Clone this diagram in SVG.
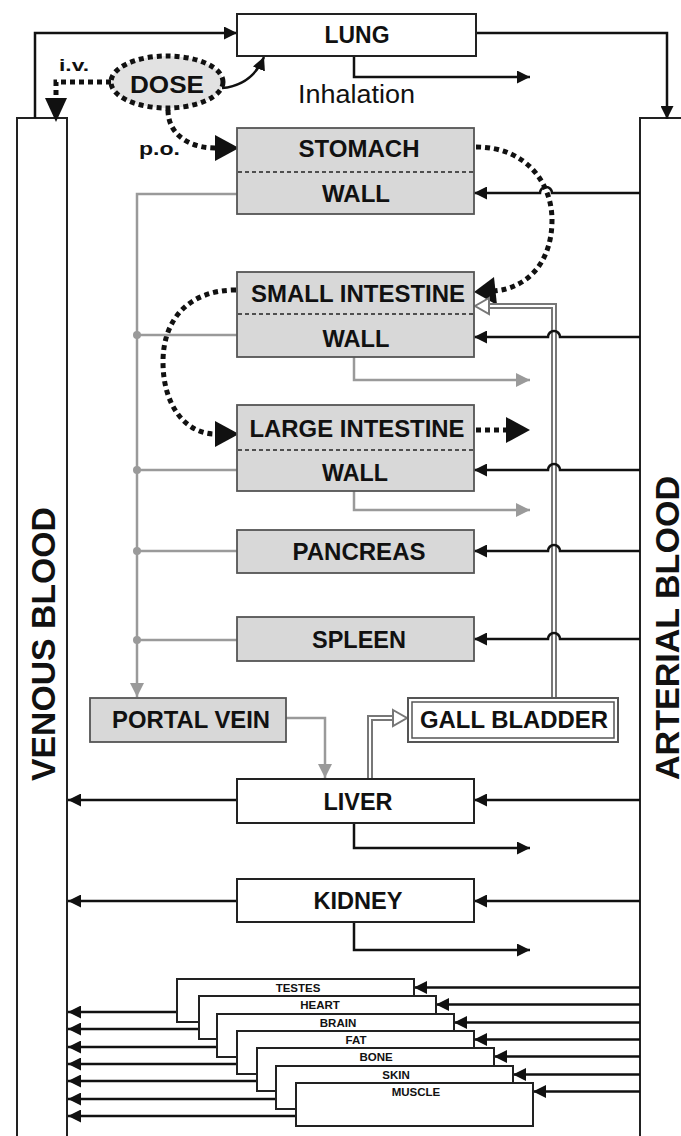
<svg xmlns="http://www.w3.org/2000/svg" width="681" height="1136" viewBox="0 0 681 1136">
<defs>
<style>
.box{fill:#fff;stroke:#222;stroke-width:2}
.gbox{fill:#d8d8d8;stroke:#555;stroke-width:1.8}
.lbl{font-family:"Liberation Sans",Arial,sans-serif;font-weight:bold;font-size:23px;fill:#111;text-anchor:middle}
.big{font-family:"Liberation Sans",Arial,sans-serif;font-weight:bold;font-size:34px;fill:#111;text-anchor:start}
.sm{font-family:"Liberation Sans",Arial,sans-serif;font-weight:bold;font-size:11.5px;fill:#111;text-anchor:middle}
.reg{font-family:"Liberation Sans",Arial,sans-serif;font-size:25px;fill:#111}
.bl{font-family:"Liberation Sans",Arial,sans-serif;font-weight:bold;fill:#111}
.div{stroke:#222;stroke-width:1.5;stroke-dasharray:4 3;fill:none}
.blk{fill:none;stroke:#111;stroke-width:2.5}
.gry{fill:none;stroke:#9a9a9a;stroke-width:2.5}
.dot{fill:none;stroke:#111;stroke-width:5;stroke-dasharray:5 4}
.dblo{fill:none;stroke:#777;stroke-width:6}
.dbli{fill:none;stroke:#fff;stroke-width:2}
.hol{fill:#fff;stroke:#777;stroke-width:2}
.ahd{fill:#111}
</style>
<marker id="ah" viewBox="0 0 12 12" refX="12" refY="6" markerWidth="13" markerHeight="13" markerUnits="userSpaceOnUse" orient="auto"><path d="M0,0 L12,6 L0,12 z" fill="#111"/></marker>
<marker id="ahg" viewBox="0 0 12 12" refX="12" refY="6" markerWidth="14" markerHeight="14" markerUnits="userSpaceOnUse" orient="auto"><path d="M0,0 L12,6 L0,12 z" fill="#9a9a9a"/></marker>
</defs>
<rect width="681" height="1136" fill="#fff"/>

<g id="venous-blood">
<rect x="17" y="118" width="50" height="1030" fill="#fff" stroke="#222" stroke-width="2"/>
<text class="big" transform="translate(55,781) rotate(-90)" textLength="274" lengthAdjust="spacingAndGlyphs">VENOUS BLOOD</text>
</g>
<g id="arterial-blood">
<rect x="640" y="118" width="60" height="1030" fill="#fff" stroke="#222" stroke-width="2"/>
<text class="big" transform="translate(679,780) rotate(-90)" textLength="304" lengthAdjust="spacingAndGlyphs">ARTERIAL BLOOD</text>
</g>

<g id="connectors">
<!-- lung -->
<path class="blk" d="M35 118 V33 H237" marker-end="url(#ah)"/>
<path class="blk" d="M476 33 H667 V119" marker-end="url(#ah)"/>
<path class="blk" d="M354 56 V77 H530" marker-end="url(#ah)"/>
<path class="blk" stroke-width="2" d="M222 88 C243 86 256 76 264 57" marker-end="url(#ah)"/>
<!-- dose routes -->
<path class="dot" d="M111 82 H56 V98"/>
<polygon class="ahd" points="45,98 67,98 56,122"/>
<path class="dot" d="M168 110 C168 135 190 148 215 148"/>
<polygon class="ahd" points="215,135 239,148 215,161"/>
<path class="dot" d="M476 147 C528 147 552 185 552 220 C552 262 528 288 494 291"/>
<polygon class="ahd" points="494,277 474,292 497,305"/>
<path class="dot" d="M236 290 C190 290 163 318 163 362 C163 405 185 433 214 434"/>
<polygon class="ahd" points="215,421 239,434 215,447"/>
<path class="dot" d="M476 430 H506"/>
<polygon class="ahd" points="506,417 530,430 506,443"/>
<!-- portal system (gray) -->
<path class="gry" d="M237 194 H137 V697" marker-end="url(#ahg)"/>
<path class="gry" d="M237 335 H137"/>
<path class="gry" d="M237 470 H137"/>
<path class="gry" d="M237 551 H137"/>
<path class="gry" d="M237 640 H137"/>
<circle cx="137" cy="335" r="4" fill="#9a9a9a"/>
<circle cx="137" cy="470" r="4" fill="#9a9a9a"/>
<circle cx="137" cy="551" r="4" fill="#9a9a9a"/>
<circle cx="137" cy="640" r="4" fill="#9a9a9a"/>
<path class="gry" d="M354 357 V380 H530" marker-end="url(#ahg)"/>
<path class="gry" d="M354 491 V510 H530" marker-end="url(#ahg)"/>
<path class="gry" d="M286 718 H325 V778" marker-end="url(#ahg)"/>
<!-- bile (double lines) -->
<path class="dblo" d="M554 698 V306 H489"/>
<path class="dbli" d="M554 698 V306 H489"/>
<polygon class="hol" points="489,298 475,306 489,314"/>
<path class="dblo" d="M370 779 V718 H393"/>
<path class="dbli" d="M370 779 V718 H393"/>
<polygon class="hol" points="393,710 407,718 393,726"/>
<!-- arterial inflows -->
<path class="blk" d="M640 193 H552 A6 6 0 0 0 540 193 H474" marker-end="url(#ah)"/>
<path class="blk" d="M640 337 H560 A6 6 0 0 0 548 337 H474" marker-end="url(#ah)"/>
<path class="blk" d="M640 470 H560 A6 6 0 0 0 548 470 H474" marker-end="url(#ah)"/>
<path class="blk" d="M640 551 H560 A6 6 0 0 0 548 551 H474" marker-end="url(#ah)"/>
<path class="blk" d="M640 639 H560 A6 6 0 0 0 548 639 H474" marker-end="url(#ah)"/>
<path class="blk" d="M640 800 H474" marker-end="url(#ah)"/>
<path class="blk" d="M640 901 H474" marker-end="url(#ah)"/>
<!-- venous outflows -->
<path class="blk" d="M237 800 H68" marker-end="url(#ah)"/>
<path class="blk" d="M237 901 H68" marker-end="url(#ah)"/>
<path class="blk" d="M354 823 V848 H530" marker-end="url(#ah)"/>
<path class="blk" d="M354 922 V950 H530" marker-end="url(#ah)"/>
<!-- stacked tissues -->
<path class="blk" d="M640 987.5 H414" marker-end="url(#ah)"/>
<path class="blk" d="M640 1004.5 H436" marker-end="url(#ah)"/>
<path class="blk" d="M640 1022.5 H454" marker-end="url(#ah)"/>
<path class="blk" d="M640 1039.5 H474" marker-end="url(#ah)"/>
<path class="blk" d="M640 1056.5 H494" marker-end="url(#ah)"/>
<path class="blk" d="M640 1074.5 H513" marker-end="url(#ah)"/>
<path class="blk" d="M640 1091.5 H533" marker-end="url(#ah)"/>
<path class="blk" d="M177 1012 H68" marker-end="url(#ah)"/>
<path class="blk" d="M199 1029 H68" marker-end="url(#ah)"/>
<path class="blk" d="M217 1047 H68" marker-end="url(#ah)"/>
<path class="blk" d="M237 1064 H68" marker-end="url(#ah)"/>
<path class="blk" d="M257 1081 H68" marker-end="url(#ah)"/>
<path class="blk" d="M276 1099 H68" marker-end="url(#ah)"/>
<path class="blk" d="M296 1116 H68" marker-end="url(#ah)"/>
</g>

<g id="lung"><rect class="box" x="237" y="14" width="239" height="42"/><text class="lbl" x="357" y="43" textLength="65" lengthAdjust="spacingAndGlyphs">LUNG</text></g>
<g id="dose"><ellipse cx="167" cy="82" rx="56" ry="26" fill="#e2e2e2" stroke="#111" stroke-width="5" stroke-dasharray="5 4"/><text class="lbl" x="167" y="93" font-size="25" textLength="74" lengthAdjust="spacingAndGlyphs">DOSE</text></g>
<g id="labels">
<text class="bl" x="59" y="71" font-size="17" textLength="30" lengthAdjust="spacingAndGlyphs">i.v.</text>
<text class="bl" x="139" y="155" font-size="19" textLength="41" lengthAdjust="spacingAndGlyphs">p.o.</text>
<text class="reg" x="298" y="103" textLength="117" lengthAdjust="spacingAndGlyphs">Inhalation</text>
</g>
<g id="stomach"><rect class="gbox" x="237" y="128" width="237" height="86"/><line class="div" x1="238" y1="172" x2="473" y2="172"/><text class="lbl" x="359" y="157" textLength="121" lengthAdjust="spacingAndGlyphs">STOMACH</text><text class="lbl" x="356" y="202" textLength="68" lengthAdjust="spacingAndGlyphs">WALL</text></g>
<g id="small-intestine"><rect class="gbox" x="237" y="272" width="237" height="85"/><line class="div" x1="238" y1="314" x2="473" y2="314"/><text class="lbl" x="358" y="302" textLength="214" lengthAdjust="spacingAndGlyphs">SMALL INTESTINE</text><text class="lbl" x="356" y="347" textLength="67" lengthAdjust="spacingAndGlyphs">WALL</text></g>
<g id="large-intestine"><rect class="gbox" x="237" y="405" width="237" height="86"/><line class="div" x1="238" y1="450" x2="473" y2="450"/><text class="lbl" x="357" y="437" textLength="215" lengthAdjust="spacingAndGlyphs">LARGE INTESTINE</text><text class="lbl" x="355" y="481" textLength="66" lengthAdjust="spacingAndGlyphs">WALL</text></g>
<g id="pancreas"><rect class="gbox" x="237" y="530" width="237" height="43"/><text class="lbl" x="359" y="560" textLength="133" lengthAdjust="spacingAndGlyphs">PANCREAS</text></g>
<g id="spleen"><rect class="gbox" x="237" y="617" width="237" height="44"/><text class="lbl" x="359" y="648" textLength="94" lengthAdjust="spacingAndGlyphs">SPLEEN</text></g>
<g id="portal-vein"><rect class="gbox" x="90" y="698" width="196" height="44"/><text class="lbl" x="191" y="728" textLength="158" lengthAdjust="spacingAndGlyphs">PORTAL VEIN</text></g>
<g id="gall-bladder"><rect x="408" y="698" width="210" height="44" fill="#fff" stroke="#555" stroke-width="2"/><rect x="412" y="702" width="202" height="36" fill="none" stroke="#555" stroke-width="1.5"/><text class="lbl" x="514" y="728" textLength="188" lengthAdjust="spacingAndGlyphs">GALL BLADDER</text></g>
<g id="liver"><rect class="box" x="237" y="779" width="237" height="44"/><text class="lbl" x="358" y="810" textLength="69" lengthAdjust="spacingAndGlyphs">LIVER</text></g>
<g id="kidney"><rect class="box" x="237" y="879" width="237" height="43"/><text class="lbl" x="358" y="909" textLength="89" lengthAdjust="spacingAndGlyphs">KIDNEY</text></g>
<g id="testes"><rect class="box" x="177" y="979" width="237" height="43"/><text class="sm" x="298" y="992">TESTES</text></g>
<g id="heart"><rect class="box" x="199" y="996" width="237" height="43"/><text class="sm" x="320" y="1009">HEART</text></g>
<g id="brain"><rect class="box" x="217" y="1014" width="237" height="43"/><text class="sm" x="338" y="1027">BRAIN</text></g>
<g id="fat"><rect class="box" x="237" y="1031" width="237" height="43"/><text class="sm" x="356" y="1044">FAT</text></g>
<g id="bone"><rect class="box" x="257" y="1048" width="237" height="43"/><text class="sm" x="376" y="1061">BONE</text></g>
<g id="skin"><rect class="box" x="276" y="1066" width="237" height="43"/><text class="sm" x="396" y="1079">SKIN</text></g>
<g id="muscle"><rect class="box" x="296" y="1083" width="237" height="43"/><text class="sm" x="416" y="1096">MUSCLE</text></g>
</svg>
